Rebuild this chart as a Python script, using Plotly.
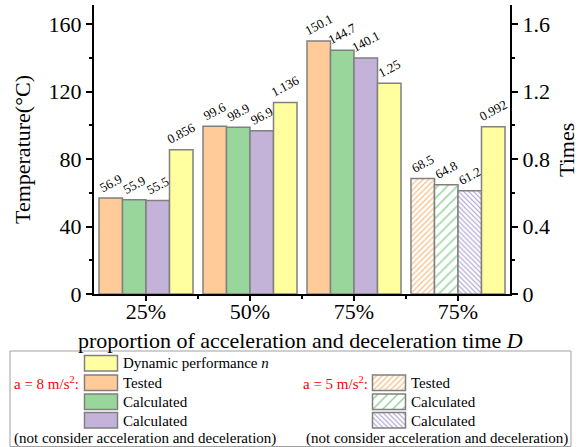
import plotly.graph_objects as go

# ---- data ----
groups = ["25%", "50%", "75%", "75%"]
tested_a8 = [56.9, 99.6, 150.1]
calc_a8 = [55.9, 98.9, 144.7]
calc_nc_a8 = [55.5, 96.9, 140.1]
tested_a5 = [68.5]
calc_a5 = [64.8]
calc_nc_a5 = [61.2]
dyn_perf = [0.856, 1.136, 1.25, 0.992]
dyn_labels = ["0.856", "1.136", "1.25", "0.992"]

W, H = 583, 447
FONT = "Liberation Serif, Times New Roman, serif"
ORANGE = "#FFCC99"
GREEN = "#99D69C"
PURPLE = "#C3B3D8"
YELLOW = "#FFFF9F"
OUTLINE = "#808080"
H_OR, H_GR, H_PU = "#F7BE85", "#94D49A", "#AE9FD0"

x_a8 = [0, 1, 2]
x_a5 = [3]
x_all = [0, 1, 2, 3]
bw = 0.226
offs = [-2 * bw, -bw, 0, bw]

fig = go.Figure()

PAT_OR = ("/", 4, 0.3)
PAT_GR = ("/", 7, 0.22)
PAT_PU = ("\\", 3.5, 0.32)

def make_marker(color, pattern):
    if pattern is None:
        return dict(color=color, line=dict(color=OUTLINE, width=1.5))
    return dict(color="white", line=dict(color=OUTLINE, width=1.5),
                pattern=dict(shape=pattern[0], fgcolor=color, bgcolor="white",
                             size=pattern[1], solidity=pattern[2]))

def add_bar(x, y, idx, color, pattern=None, yaxis="y", labels=None):
    fig.add_trace(go.Bar(
        x=x, y=y, width=bw, offset=offs[idx], marker=make_marker(color, pattern),
        yaxis=yaxis,
        text=labels if labels is not None else [f"{v:.1f}" for v in y],
        textposition="outside", textangle=-28, constraintext="none",
        cliponaxis=False, textfont=dict(family=FONT, size=13, color="black"),
        showlegend=False, hoverinfo="skip"))

add_bar(x_a8, tested_a8, 0, ORANGE)
add_bar(x_a8, calc_a8, 1, GREEN)
add_bar(x_a8, calc_nc_a8, 2, PURPLE)
add_bar(x_a5, tested_a5, 0, H_OR, pattern=PAT_OR)
add_bar(x_a5, calc_a5, 1, H_GR, pattern=PAT_GR)
add_bar(x_a5, calc_nc_a5, 2, H_PU, pattern=PAT_PU)
add_bar(x_all, dyn_perf, 3, YELLOW, yaxis="y2", labels=dyn_labels)

# ---- custom legend (pixel-coordinate overlay axes) ----
sw_w, sw_h = 33, 15.5
leg_x = [101, 101, 101, 101, 389, 389, 389]
leg_top = [355.5, 375, 394, 412.5, 375, 394, 412.5]
leg_col = [YELLOW, ORANGE, GREEN, PURPLE, H_OR, H_GR, H_PU]
leg_pat = [None, None, None, None, PAT_OR, PAT_GR, PAT_PU]
for cx, top, col, pat in zip(leg_x, leg_top, leg_col, leg_pat):
    fig.add_trace(go.Bar(x=[cx], y=[sw_h], base=[top], width=sw_w,
                         marker=make_marker(col, pat),
                         xaxis="x3", yaxis="y3", showlegend=False, hoverinfo="skip"))

leg_font = dict(family=FONT, size=15, color="black")
red_font = dict(family=FONT, size=15, color="red")
ann = []
def txt(x, y, s, font=leg_font, xanchor="left"):
    ann.append(dict(x=x, y=y, xref="x3", yref="y3", text=s, showarrow=False,
                    xanchor=xanchor, yanchor="middle", font=font))
txt(121, 363, "Dynamic performance <i>n</i>")
txt(121, 383, "Tested")
txt(121, 402, "Calculated")
txt(121, 420.5, "Calculated")
txt(12, 438.5, "(not consider acceleration and deceleration)")
txt(81, 383, "a = 8 m/s<sup>2</sup>:", red_font, "right")
txt(409, 383, "Tested")
txt(409, 402, "Calculated")
txt(409, 420.5, "Calculated")
txt(304, 438.5, "(not consider acceleration and deceleration)")
txt(370, 383, "a = 5 m/s<sup>2</sup>:", red_font, "right")

# axis titles
ann.append(dict(x=22, y=150, xref="x3", yref="y3", text="Temperature(°C)", textangle=-90,
                showarrow=False, font=dict(family=FONT, size=22, color="black")))
ann.append(dict(x=566, y=150, xref="x3", yref="y3", text="Times", textangle=-90,
                showarrow=False, font=dict(family=FONT, size=22, color="black")))
ann.append(dict(x=300, y=340, xref="x3", yref="y3",
                text="proportion of acceleration and deceleration time <i>D</i>",
                showarrow=False, font=dict(family=FONT, size=22, color="black")))

tickfont = dict(family=FONT, size=22, color="black")
fig.update_layout(
    width=W, height=H, margin=dict(l=0, r=0, t=0, b=0),
    template="none", paper_bgcolor="white", plot_bgcolor="rgba(0,0,0,0)",
    font=dict(family=FONT, color="black"),
    barmode="overlay", showlegend=False,
    xaxis=dict(domain=[94 / W, 510 / W], range=[-0.5, 3.5], tickvals=x_all,
               ticktext=groups, showgrid=False, zeroline=False, showline=True,
               linecolor="black", linewidth=2, ticks="outside", ticklen=5,
               tickwidth=2, tickcolor="black", tickfont=tickfont, automargin=False,
               ticklabelstandoff=-8,
               minor=dict(tickvals=[0.5, 1.5, 2.5], ticks="outside", ticklen=3,
                          tickwidth=2, tickcolor="black")),
    yaxis=dict(domain=[(H - 294) / H, (H - 5) / H], range=[0, 171.5],
               tickvals=[0, 40, 80, 120, 160], showgrid=False, zeroline=False,
               showline=True, linecolor="black", linewidth=2, ticks="outside",
               ticklen=6, tickwidth=2, tickcolor="black", tickfont=tickfont,
               automargin=False,
               minor=dict(tickvals=[20, 60, 100, 140], ticks="outside", ticklen=3,
                          tickwidth=2, tickcolor="black")),
    yaxis2=dict(overlaying="y", side="right", anchor="x", range=[0, 1.715],
                tickvals=[0, 0.4, 0.8, 1.2, 1.6], ticktext=["0", "0.4", "0.8", "1.2", "1.6"],
                showgrid=False, zeroline=False, showline=True, linecolor="black",
                linewidth=2, ticks="outside", ticklen=6, tickwidth=2, tickcolor="black",
                tickfont=tickfont, automargin=False,
                minor=dict(tickvals=[0.2, 0.6, 1.0, 1.4], ticks="outside", ticklen=3,
                           tickwidth=2, tickcolor="black")),
    xaxis3=dict(domain=[0, 1], range=[0, W], visible=False, fixedrange=True),
    yaxis3=dict(domain=[0, 1], range=[H, 0], visible=False, fixedrange=True,
                anchor="x3"),
    annotations=ann,
    shapes=[dict(type="rect", xref="x3", yref="y3", x0=10, x1=571, y0=351, y1=446.5,
                 line=dict(color="#A0A0A0", width=1), layer="below")],
)

fig.write_html("out.html")
